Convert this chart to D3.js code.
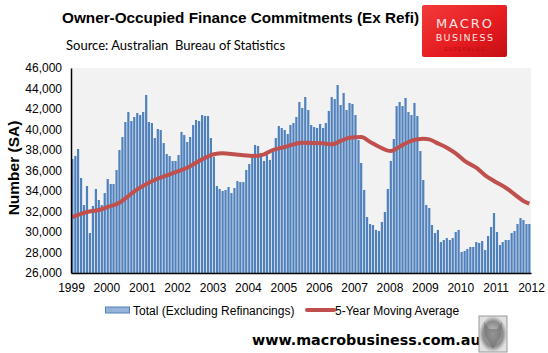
<!DOCTYPE html>
<html>
<head>
<meta charset="utf-8">
<script src="https://cdn.jsdelivr.net/npm/d3@7"></script>
<style>
  body { margin: 0; background: #fff; }
  svg { display: block; }
</style>
</head>
<body>
<div id="chart"></div>
<script>
// Số liệu: cam kết tài chính nhà ở chủ sở hữu (không tính tái cấp vốn), theo tháng từ 01/1999
const startYear = 1999;
const totalValues = [
  37120, 37420, 38100, 35270, 32630, 34490, 29900, 32540, 34200, 33120, 32630, 33800,
  35170, 34680, 34680, 36050, 38000, 39270, 40730, 41710, 40830, 41220, 41610, 41410,
  41710, 43370, 40730, 40630, 39170, 40050, 39950, 38680, 37610, 37410, 36930, 36930,
  37510, 39760, 39460, 38780, 39270, 40440, 40930, 40830, 41410, 41320, 41320, 39170,
  37320, 34490, 34200, 34000, 34100, 34390, 33800, 34290, 34970, 34870, 34870, 36050,
  36630, 37410, 38490, 38390, 37710, 36930, 37510, 37030, 38100, 39170, 40340, 40150,
  39950, 39560, 40440, 40630, 41220, 42680, 42100, 43170, 41900, 40440, 40240, 40150,
  40540, 40150, 40630, 41810, 43170, 42970, 44340, 42390, 43560, 41900, 42590, 42490,
  41410, 38980, 36730, 34100, 31460, 30780, 30680, 30200, 30100, 30980, 31950, 34200,
  36930, 39070, 42290, 42680, 42290, 43070, 41710, 41410, 42590, 41320, 37900, 35070,
  32630, 32340, 30680, 29900, 30200, 29020, 29220, 29410, 29220, 29410, 30000, 30200,
  28050, 28150, 28340, 28540, 28540, 29020, 28930, 29120, 28250, 29610, 30490, 31850,
  30000, 28730, 29020, 29220, 29220, 29900, 30100, 30780, 31360, 31170, 30780, 30780
];

// Đường trung bình 5 năm: chỉ số tháng và giá trị đọc được
const maMonths = [0, 5, 9, 12, 16, 19, 22, 26, 29, 33, 36, 39, 44, 48, 51, 55, 58, 62, 65, 68,
  72, 75, 78, 85, 88, 91, 94, 98, 101, 104, 108, 111, 114, 117, 119, 121, 124, 127, 130, 133,
  137, 140, 143, 147, 150, 153, 155];
const maValues = [31450, 31950, 32150, 32440, 32860, 33510, 34160, 34810, 35200, 35630, 35950,
  36270, 37090, 37580, 37680, 37580, 37480, 37420, 37580, 38000, 38290, 38550, 38710, 38650,
  38550, 38880, 39200, 39260, 38780, 38320, 37900, 38320, 38780, 39040, 39100, 39040, 38650,
  38230, 37680, 36930, 36270, 35530, 34980, 34320, 33680, 33030, 32760];

const yTicks = [26000, 28000, 30000, 32000, 34000, 36000, 38000, 40000, 42000, 44000, 46000];
const xYears = d3.range(1999, 2013);

const width = 548, height = 353;
const margin = { top: 68, right: 17, bottom: 80, left: 71 };
const innerW = width - margin.left - margin.right;
const innerH = height - margin.top - margin.bottom;

const svg = d3.select("#chart").append("svg")
  .attr("width", width)
  .attr("height", height)
  .style("font-family", "'Liberation Sans', Arial, sans-serif");

const monthDate = i => new Date(startYear, i, 15);

const x = d3.scaleTime()
  .domain([new Date(1999, 0, 1), new Date(2012, 0, 1)])
  .range([0, innerW]);
const y = d3.scaleLinear().domain([26000, 46000]).range([innerH, 0]);

// --- Tiêu đề ---
svg.append("text")
  .attr("x", 62).attr("y", 23)
  .attr("font-size", 15.3).attr("font-weight", "bold")
  .attr("fill", "#000")
  .text("Owner-Occupied Finance Commitments (Ex Refi)");

svg.append("text")
  .attr("x", 66).attr("y", 50)
  .attr("font-family", "Lato, 'Open Sans', sans-serif")
  .attr("font-size", 13).attr("fill", "#000")
  .style("white-space", "pre")
  .text("Source: Australian  Bureau of Statistics");

// --- Logo MacroBusiness ---
const defs = svg.append("defs");
const grad = defs.append("linearGradient").attr("id", "logoGrad")
  .attr("x1", "0").attr("y1", "0").attr("x2", "1").attr("y2", "1");
grad.append("stop").attr("offset", "0%").attr("stop-color", "#f23a3a");
grad.append("stop").attr("offset", "60%").attr("stop-color", "#e41b1f");
grad.append("stop").attr("offset", "100%").attr("stop-color", "#c40f14");

const logo = svg.append("g").attr("transform", "translate(422,5)");
logo.append("rect").attr("width", 85).attr("height", 52).attr("rx", 2).attr("fill", "url(#logoGrad)");
logo.append("text").attr("x", 43).attr("y", 23).attr("text-anchor", "middle")
  .attr("font-family", "'DejaVu Sans', sans-serif").attr("font-size", 13)
  .attr("letter-spacing", 2).attr("fill", "#fde6e6").text("MACRO");
logo.append("text").attr("x", 43).attr("y", 36).attr("text-anchor", "middle")
  .attr("font-family", "'DejaVu Sans', sans-serif").attr("font-size", 9.5)
  .attr("letter-spacing", 1.4).attr("fill", "#fde6e6").text("BUSINESS");
logo.append("text").attr("x", 43).attr("y", 46).attr("text-anchor", "middle")
  .attr("font-size", 4.5).attr("letter-spacing", 1.5)
  .attr("fill", "#b00d10").text("SUPERBLOG");

// --- Vùng biểu đồ ---
const g = svg.append("g").attr("transform", `translate(${margin.left},${margin.top})`);

g.append("rect").attr("width", innerW).attr("height", innerH).attr("fill", "#f2f2f2");

const barW = 2.2;
g.selectAll(".bar")
  .data(totalValues)
  .enter().append("rect")
  .attr("class", "bar")
  .attr("x", (d, i) => x(monthDate(i)) - barW / 2)
  .attr("y", d => y(d))
  .attr("width", barW)
  .attr("height", d => y(26000) - y(d))
  .attr("fill", "#4f81bd");

const maData = maMonths.map((m, i) => ({ m, v: maValues[i] }));
g.append("path")
  .datum(maData)
  .attr("fill", "none")
  .attr("stroke", "#c0504d")
  .attr("stroke-width", 4)
  .attr("stroke-linejoin", "round")
  .attr("d", d3.line()
    .x(d => x(monthDate(d.m)))
    .y(d => y(d.v))
    .curve(d3.curveMonotoneX));

// --- Trục ---
const yAxis = g.append("g")
  .call(d3.axisLeft(y).tickValues(yTicks).tickSize(0).tickPadding(9)
    .tickFormat(d3.format(",")));
yAxis.select(".domain").attr("stroke", "#000").attr("stroke-width", 1.5);
yAxis.selectAll("text").attr("font-size", 12).attr("fill", "#000")
  .attr("font-family", "'Liberation Sans', Arial, sans-serif");

const xAxis = g.append("g")
  .attr("transform", `translate(0,${innerH})`)
  .call(d3.axisBottom(x).tickValues(xYears.map(yr => new Date(yr, 0, 1)))
    .tickSize(0).tickPadding(10).tickFormat(d3.timeFormat("%Y")));
xAxis.select(".domain").attr("stroke", "#000").attr("stroke-width", 1.5);
xAxis.selectAll("text").attr("font-size", 12).attr("fill", "#000")
  .attr("font-family", "'Liberation Sans', Arial, sans-serif");

svg.append("text")
  .attr("transform", "translate(19,168) rotate(-90)")
  .attr("text-anchor", "middle")
  .attr("font-size", 15.5).attr("font-weight", "bold")
  .text("Number (SA)");

// --- Chú giải ---
const legend = svg.append("g").attr("transform", "translate(0,310)");
legend.append("rect").attr("x", 105.5).attr("y", -3).attr("width", 24).attr("height", 6)
  .attr("fill", "#95b3d7").attr("stroke", "#4f81bd").attr("stroke-width", 1);
legend.append("text").attr("x", 133).attr("y", 4.5).attr("font-size", 12)
  .text("Total (Excluding Refinancings)");
legend.append("line").attr("x1", 307).attr("x2", 334).attr("y1", 0).attr("y2", 0)
  .attr("stroke", "#c0504d").attr("stroke-width", 4).attr("stroke-linecap", "round");
legend.append("text").attr("x", 335).attr("y", 4.5).attr("font-size", 12)
  .text("5-Year Moving Average");

// --- Website và hình chó sói ---
svg.append("text")
  .attr("x", 252).attr("y", 345)
  .attr("font-family", "'DejaVu Sans', Verdana, sans-serif")
  .attr("font-size", 14.3).attr("font-weight", "bold")
  .text("www.macrobusiness.com.au");

const wolfGrad = defs.append("radialGradient").attr("id", "wolfGrad");
wolfGrad.append("stop").attr("offset", "0%").attr("stop-color", "#c9c9c9");
wolfGrad.append("stop").attr("offset", "70%").attr("stop-color", "#8a8a8a");
wolfGrad.append("stop").attr("offset", "100%").attr("stop-color", "#e0e0e0");
const wolf = svg.append("g").attr("transform", "translate(479,316)");
wolf.append("rect").attr("width", 28).attr("height", 36)
  .attr("fill", "url(#wolfGrad)").attr("stroke", "#9a9a9a").attr("stroke-width", 1);
wolf.append("path").attr("d", "M5,6 L10,13 L18,13 L23,6 L22,20 L14,33 L6,20 Z")
  .attr("fill", "#6f6f6f").attr("opacity", 0.6);
</script>
</body>
</html>
